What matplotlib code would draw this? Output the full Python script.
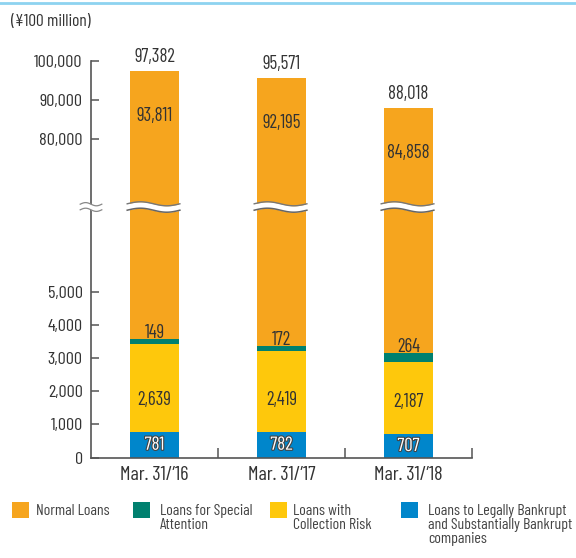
import matplotlib
matplotlib.use("Agg")
import matplotlib.pyplot as plt
import matplotlib.patheffects as pe
from matplotlib.lines import Line2D
from matplotlib.patches import Rectangle
from matplotlib.transforms import blended_transform_factory
import numpy as np

cats = ["Mar. 31/\u201916", "Mar. 31/\u201917", "Mar. 31/\u201918"]
bankrupt = [781, 782, 707]
collection = [2639, 2419, 2187]
special = [149, 172, 264]
normal = [93811, 92195, 84858]
totals = [97382, 95571, 88018]
yticks = [0, 1000, 2000, 3000, 4000, 5000, 80000, 90000, 100000]
legend_labels = ["Normal Loans", "Loans for Special\nAttention", "Loans with\nCollection Risk",
                 "Loans to Legally Bankrupt\nand Substantially Bankrupt\ncompanies"]

C_NORMAL, C_SPECIAL, C_COLL, C_BANK = "#f6a51e", "#00806f", "#fec80c", "#0086cb"
INK, AXC = "#333333", "#555555"

plt.rcParams.update({"font.family": ["Barlow Condensed", "DejaVu Sans"],
                     "text.color": INK, "axes.edgecolor": AXC})

W, H = 576, 558
fig = plt.figure(figsize=(W / 100, H / 100), dpi=100)
ax_left, ax_right, ax_top, ax_bot = 91, 472, 61.3, 457.7
ax = fig.add_axes([ax_left / W, 1 - ax_bot / H, (ax_right - ax_left) / W, (ax_bot - ax_top) / H])
AXH = ax_bot - ax_top

# broken y axis: piecewise linear scale (values -> pixels above zero)
YS = np.array([0, 7551, 62350, 100000], float)
PS = np.array([0, 250.7, 250.75, AXH])

def fwd(y):
    y = np.asarray(y, float)
    lo = y * PS[1] / YS[1]
    hi = PS[-1] + (y - YS[-1]) * (PS[-1] - PS[2]) / (YS[-1] - YS[2])
    return np.where(y < 0, lo, np.where(y > YS[-1], hi, np.interp(y, YS, PS)))

def inv(p):
    p = np.asarray(p, float)
    lo = p * YS[1] / PS[1]
    hi = YS[-1] + (p - PS[-1]) * (YS[-1] - YS[2]) / (PS[-1] - PS[2])
    return np.where(p < 0, lo, np.where(p > PS[-1], hi, np.interp(p, PS, YS)))

ax.set_yscale("function", functions=(fwd, inv))

x = np.arange(len(cats))
bw = 0.38
b1 = np.array(bankrupt)
b2 = b1 + np.array(collection)
b3 = b2 + np.array(special)
ax.bar(x, bankrupt, bw, color=C_BANK, zorder=2)
ax.bar(x, collection, bw, bottom=b1, color=C_COLL, zorder=2)
ax.bar(x, special, bw, bottom=b2, color=C_SPECIAL, zorder=2)
ax.bar(x, normal, bw, bottom=b3, color=C_NORMAL, zorder=2)

ax.set_xlim(-0.5, 2.5)
ax.set_ylim(0, 100000)

fs = 13.5
for i in range(len(cats)):
    ax.annotate(f"{totals[i]:,}", (x[i], b3[i] + normal[i]), xytext=(0, 14), textcoords="offset pixels",
                ha="center", va="center", fontsize=fs, annotation_clip=False)
    ax.annotate(f"{normal[i]:,}", (x[i], b3[i] + normal[i]), xytext=(0, -45), textcoords="offset pixels",
                ha="center", va="center", fontsize=fs)
    ax.annotate(f"{special[i]:,}", (x[i], b3[i]), xytext=(0, 6), textcoords="offset pixels",
                ha="center", va="center", fontsize=fs, zorder=5)
    ax.annotate(f"{collection[i]:,}", (x[i], b1[i]), xytext=(0, 32), textcoords="offset pixels",
                ha="center", va="center", fontsize=fs)
    ax.text(x[i], b1[i] / 2, f"{bankrupt[i]:,}", ha="center", va="center", fontsize=fs, color="white",
            path_effects=[pe.withStroke(linewidth=1.6, foreground="#444444")], zorder=5)

# break marks
tr = blended_transform_factory(ax.transData, ax.transAxes)
yb = PS[1] / AXH

def wave(x0, x1, n=60):
    xs = np.linspace(x0, x1, n)
    t = np.linspace(0, 1, n)
    return xs, 2.0 * np.sin(2 * np.pi * t)

for i in range(len(cats)):
    xs, w = wave(x[i] - 0.215, x[i] + 0.2)
    up = yb + (3.2 + w) / AXH
    dn = yb + (-3.2 + w) / AXH
    ax.fill_between(xs, dn, up, transform=tr, color="white", zorder=4, lw=0)
    ax.plot(xs, up, transform=tr, color="#777777", lw=1.0, zorder=4.5)
    ax.plot(xs, dn, transform=tr, color="#666666", lw=1.1, zorder=4.5)

xs, w = wave(-0.585, -0.415)
up = yb + (2.8 + w * 0.8) / AXH
dn = yb + (-2.8 + w * 0.8) / AXH
ax.fill_between(xs, dn, up, transform=tr, color="white", zorder=6, lw=0, clip_on=False)
ax.plot(xs, up, transform=tr, color="#888888", lw=0.9, zorder=6.5, clip_on=False)
ax.plot(xs, dn, transform=tr, color="#888888", lw=0.9, zorder=6.5, clip_on=False)

# axes styling
for sp in ("top", "right"):
    ax.spines[sp].set_visible(False)
for sp in ("left", "bottom"):
    ax.spines[sp].set_linewidth(1.2)
ax.set_yticks(yticks)
ax.set_yticklabels([f"{v:,}" for v in yticks])
ax.yaxis.set_minor_locator(matplotlib.ticker.NullLocator())
ax.tick_params(axis="y", direction="in", length=6, width=1.1, color=AXC, labelsize=13,
               labelcolor=INK, pad=6)
ax.set_xticks(x)
ax.set_xticklabels(cats)
ax.set_xticks([0.5, 1.5, 2.5], minor=True)
ax.tick_params(axis="x", which="major", length=0, labelsize=14.5, labelcolor=INK, pad=6)
ax.tick_params(axis="x", which="minor", direction="in", length=7.2, width=1.1, color=AXC)

def fx(px):
    return px / W

def fy(py):
    return 1 - py / H

fig.text(fx(11), fy(22), "(\u00a5100 million)", fontsize=12.5, ha="left", va="center")
fig.add_artist(Line2D([0, 1], [fy(2.5), fy(2.5)], transform=fig.transFigure, color="#8dd3f0", lw=2))

leg_colors = [C_NORMAL, C_SPECIAL, C_COLL, C_BANK]
sq_x = [12, 133, 270, 401]
tx_x = [36, 160, 293, 428]
for c, sx, tx, lab in zip(leg_colors, sq_x, tx_x, legend_labels):
    fig.add_artist(Rectangle((fx(sx), fy(518)), 17 / W, 16 / H, transform=fig.transFigure,
                             facecolor=c, edgecolor="none"))
    fig.text(fx(tx), fy(504), lab, fontsize=11.4, ha="left", va="top", linespacing=1.02,
             color="#444444")

fig.savefig("out.png", dpi=100)
